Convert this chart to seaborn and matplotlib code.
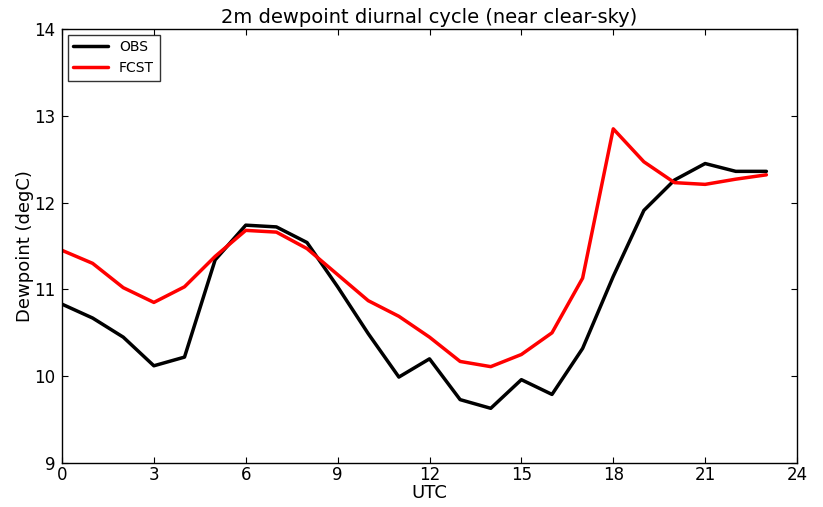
import numpy as np
import pandas as pd
import matplotlib
matplotlib.use("Agg")
import matplotlib.pyplot as plt
import seaborn as sns

# === Data ===
hours = list(range(24))
obs = [10.83, 10.67, 10.45, 10.12, 10.22, 11.34, 11.74, 11.72, 11.54, 11.03,
       10.49, 9.99, 10.20, 9.73, 9.63, 9.96, 9.79, 10.32, 11.15, 11.91,
       12.26, 12.45, 12.36, 12.36]
fcst = [11.45, 11.30, 11.02, 10.85, 11.03, 11.38, 11.68, 11.66, 11.47, 11.17,
        10.87, 10.69, 10.45, 10.17, 10.11, 10.25, 10.50, 11.13, 12.85, 12.47,
        12.23, 12.21, 12.27, 12.32]
series = ["OBS", "FCST"]
colors = ["black", "red"]

df = pd.DataFrame({
    "UTC": hours * 2,
    "Dewpoint": obs + fcst,
    "series": ["OBS"] * len(hours) + ["FCST"] * len(hours),
})

sns.set_style("ticks", {"text.color": "black", "axes.labelcolor": "black",
                        "xtick.color": "black", "ytick.color": "black",
                        "axes.edgecolor": "black"})
plt.rcParams["font.family"] = ["DejaVu Sans"]

fig = plt.figure(figsize=(8.23, 5.07), dpi=100)
ax = fig.add_axes([62 / 823, 1 - 463 / 507, (797 - 62) / 823, (463 - 29) / 507])

sns.lineplot(data=df, x="UTC", y="Dewpoint", hue="series", hue_order=series,
             palette=dict(zip(series, colors)), linewidth=2.5, ax=ax)

ax.set_xlim(0, 24)
ax.set_ylim(9, 14)
ax.set_xticks(range(0, 25, 3))
ax.set_yticks(range(9, 15))
ax.tick_params(direction="in", top=True, right=True, labelsize=12, length=4)
ax.tick_params(axis="x", pad=2)
ax.tick_params(axis="y", pad=5)
for s in ax.spines.values():
    s.set_visible(True)
    s.set_linewidth(1.0)
ax.set_xlabel("UTC", fontsize=13, labelpad=0)
ax.set_ylabel("Dewpoint (degC)", fontsize=13, labelpad=0)
ax.set_title("2m dewpoint diurnal cycle (near clear-sky)", fontsize=14, pad=4)

leg = ax.legend(loc="upper left", fontsize=10, frameon=True, fancybox=False,
                edgecolor="black", handlelength=2.5, borderaxespad=0.4)
leg.get_frame().set_linewidth(1.0)

fig.savefig("out.png", dpi=100)
